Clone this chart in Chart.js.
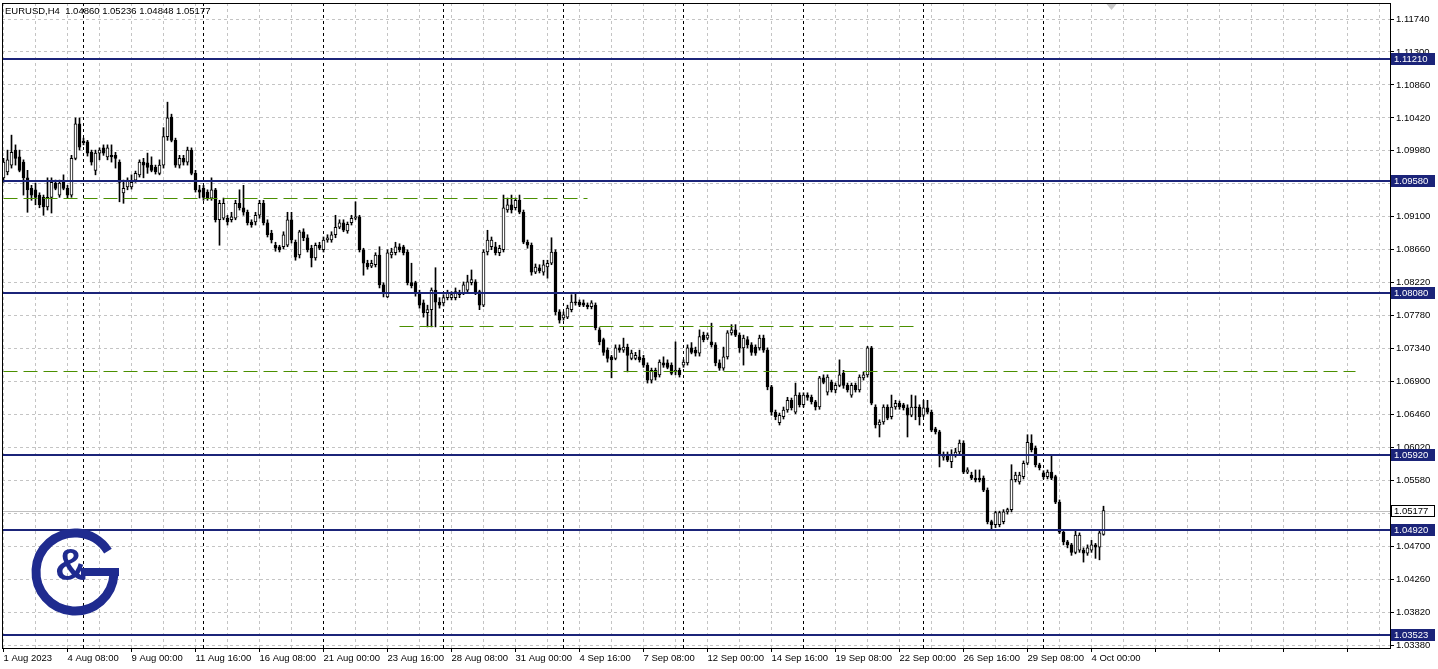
<!DOCTYPE html>
<html>
<head>
<meta charset="utf-8">
<script src="https://cdn.jsdelivr.net/npm/chart.js@4.4.1/dist/chart.umd.min.js"></script>
<style>
html,body{margin:0;padding:0;background:#fff;}
#wrap{width:1438px;height:669px;}
</style>
</head>
<body>
<div id="wrap"><canvas id="chart" width="1438" height="669"></canvas></div>
<script>
const symbolTitle = 'EURUSD,H4  1.04860 1.05236 1.04848 1.05177';

// H4 candles, one per bar, starting 1 Aug 2023 16:00
const opens = [
1.0962,1.0970,1.0979,1.0999,1.0990,1.0983,1.0962,1.0948,1.0946,1.0939,
1.0936,1.0923,1.0936,1.0955,1.0939,1.0956,1.0948,1.0939,1.0988,1.1034,
1.1011,1.1010,1.0996,1.0972,1.0995,1.1002,1.0990,1.0992,1.0992,1.0983,
1.0942,1.0950,1.0950,1.0959,1.0966,1.0983,1.0982,1.0979,1.0976,1.0968,
1.0979,1.1017,1.1043,1.1012,1.0979,1.0988,1.0983,1.0999,1.0968,1.0946,
1.0948,1.0943,1.0935,1.0946,1.0906,1.0908,1.0908,1.0906,1.0908,1.0928,
1.0922,1.0916,1.0903,1.0903,1.0912,1.0928,1.0902,1.0888,1.0872,1.0870,
1.0870,1.0872,1.0906,1.0876,1.0859,1.0890,1.0882,1.0868,1.0855,1.0872,
1.0866,1.0879,1.0879,1.0886,1.0896,1.0902,1.0891,1.0902,1.0908,1.0910,
1.0866,1.0848,1.0844,1.0846,1.0859,1.0819,1.0803,1.0859,1.0862,1.0870,
1.0870,1.0863,1.0822,1.0822,1.0808,1.0795,1.0782,1.0786,1.0812,1.0796,
1.0795,1.0802,1.0802,1.0802,1.0808,1.0808,1.0812,1.0822,1.0823,1.0810,
1.0792,1.0863,1.0870,1.0870,1.0862,1.0866,1.0919,1.0926,1.0922,1.0932,
1.0916,1.0876,1.0872,1.0836,1.0842,1.0836,1.0843,1.0848,1.0863,1.0783,
1.0775,1.0776,1.0786,1.0796,1.0796,1.0795,1.0792,1.0790,1.0792,1.0759,
1.0746,1.0732,1.0723,1.0721,1.0735,1.0732,1.0736,1.0721,1.0721,1.0723,
1.0721,1.0712,1.0692,1.0705,1.0699,1.0715,1.0715,1.0712,1.0703,1.0705,
1.0712,1.0715,1.0735,1.0732,1.0728,1.0752,1.0748,1.0743,1.0739,1.0715,
1.0708,1.0723,1.0755,1.0759,1.0752,1.0735,1.0746,1.0739,1.0736,1.0735,
1.0748,1.0732,1.0683,1.0649,1.0635,1.0643,1.0652,1.0665,1.0649,1.0672,
1.0659,1.0672,1.0669,1.0663,1.0656,1.0695,1.0676,1.0689,1.0679,1.0685,
1.0701,1.0685,1.0672,1.0685,1.0679,1.0695,1.0699,1.0735,1.0656,1.0632,
1.0636,1.0656,1.0643,1.0656,1.0661,1.0659,1.0655,1.0645,1.0656,1.0656,
1.0645,1.0655,1.0649,1.0627,1.0623,1.0589,1.0592,1.0583,1.0592,1.0596,
1.0608,1.0569,1.0565,1.0561,1.0561,1.0561,1.0545,1.0503,1.0499,1.0499,
1.0503,1.0516,1.0519,1.0559,1.0556,1.0563,1.0581,1.0608,1.0601,1.0579,
1.0568,1.0563,1.0569,1.0563,1.0529,1.0489,1.0476,1.0472,1.0462,1.0465,
1.0465,1.0461,1.0465,1.0472,1.0469,1.04860
];
const highs = [
1.0988,1.0999,1.1019,1.1006,1.0999,1.0986,1.0972,1.0952,1.0955,1.0942,
1.0939,1.0962,1.0962,1.0959,1.0959,1.0966,1.0952,1.0992,1.1042,1.1042,
1.1015,1.1012,1.0999,1.0999,1.1002,1.1006,1.1006,1.1006,1.0996,1.0986,
1.0959,1.0962,1.0966,1.0971,1.0986,1.0988,1.0995,1.0990,1.0979,1.0986,
1.1029,1.1063,1.1047,1.1015,1.0992,1.0992,1.1003,1.1002,1.0972,1.0952,
1.0952,1.0946,1.0962,1.0948,1.0932,1.0935,1.0912,1.0916,1.0932,1.0946,
1.0952,1.0919,1.0906,1.0916,1.0932,1.0932,1.0906,1.0892,1.0876,1.0872,
1.0890,1.0916,1.0916,1.0879,1.0892,1.0894,1.0886,1.0872,1.0875,1.0876,
1.0883,1.0886,1.0890,1.0912,1.0906,1.0906,1.0903,1.0912,1.0930,1.0912,
1.0868,1.0852,1.0852,1.0862,1.0870,1.0822,1.0866,1.0868,1.0876,1.0874,
1.0872,1.0866,1.0848,1.0824,1.0812,1.0799,1.0792,1.0815,1.0842,1.0802,
1.0806,1.0812,1.0810,1.0815,1.0812,1.0823,1.0832,1.0839,1.0826,1.0812,
1.0866,1.0892,1.0883,1.0876,1.0872,1.0939,1.0935,1.0939,1.0935,1.0939,
1.0919,1.0879,1.0875,1.0847,1.0846,1.0852,1.0852,1.0882,1.0866,1.0786,
1.0783,1.0792,1.0806,1.0808,1.0799,1.0799,1.0795,1.0798,1.0795,1.0762,
1.0748,1.0735,1.0725,1.0739,1.0739,1.0748,1.0740,1.0732,1.0729,1.0732,
1.0725,1.0715,1.0708,1.0708,1.0719,1.0723,1.0719,1.0715,1.0743,1.0708,
1.0719,1.0739,1.0742,1.0736,1.0759,1.0756,1.0755,1.0768,1.0742,1.0719,
1.0736,1.0758,1.0766,1.0766,1.0755,1.0752,1.0750,1.0742,1.0739,1.0752,
1.0752,1.0735,1.0685,1.0652,1.0648,1.0656,1.0669,1.0668,1.0688,1.0675,
1.0675,1.0675,1.0672,1.0665,1.0697,1.0699,1.0699,1.0692,1.0688,1.0719,
1.0705,1.0688,1.0688,1.0688,1.0699,1.0703,1.0737,1.0737,1.0659,1.0639,
1.0659,1.0659,1.0672,1.0665,1.0664,1.0661,1.0659,1.0672,1.0671,1.0659,
1.0665,1.0665,1.0652,1.0629,1.0625,1.0596,1.0596,1.0599,1.0601,1.0612,
1.0611,1.0575,1.0569,1.0572,1.0572,1.0564,1.0548,1.0505,1.0517,1.0517,
1.0519,1.0521,1.0579,1.0569,1.0569,1.0584,1.0619,1.0619,1.0604,1.0581,
1.0571,1.0572,1.0592,1.0565,1.0532,1.0492,1.0478,1.0474,1.0492,1.0488,
1.0468,1.0472,1.0478,1.0474,1.0492,1.05236
];
const lows = [
1.0956,1.0966,1.0975,1.0979,1.0970,1.0939,1.0916,1.0932,1.0926,1.0922,
1.0912,1.0919,1.0915,1.0946,1.0936,1.0946,1.0935,1.0936,1.0986,1.0999,
1.1006,1.0991,1.0979,1.0966,1.0986,1.0992,1.0986,1.0983,1.0975,1.0930,
1.0928,1.0946,1.0947,1.0956,1.0963,1.0962,1.0968,1.0970,1.0967,1.0966,
1.0975,1.1012,1.1010,1.0976,1.0975,1.0979,1.0979,1.0966,1.0943,1.0935,
1.0932,1.0932,1.0932,1.0903,1.0872,1.0906,1.0899,1.0903,1.0906,1.0919,
1.0912,1.0899,1.0896,1.0899,1.0908,1.0899,1.0883,1.0875,1.0864,1.0863,
1.0867,1.0870,1.0875,1.0852,1.0855,1.0878,1.0863,1.0843,1.0852,1.0866,
1.0863,1.0876,1.0876,1.0882,1.0894,1.0890,1.0888,1.0899,1.0906,1.0863,
1.0832,1.0840,1.0842,1.0843,1.0815,1.0803,1.0802,1.0855,1.0859,1.0863,
1.0859,1.0819,1.0815,1.0804,1.0788,1.0776,1.0763,1.0763,1.0763,1.0788,
1.0791,1.0799,1.0799,1.0799,1.0802,1.0806,1.0810,1.0819,1.0806,1.0786,
1.0790,1.0859,1.0866,1.0859,1.0858,1.0863,1.0916,1.0915,1.0919,1.0914,
1.0874,1.0868,1.0832,1.0834,1.0835,1.0832,1.0828,1.0846,1.0779,1.0768,
1.0772,1.0774,1.0783,1.0792,1.0790,1.0790,1.0787,1.0787,1.0759,1.0739,
1.0725,1.0716,1.0695,1.0719,1.0729,1.0729,1.0703,1.0719,1.0719,1.0716,
1.0709,1.0688,1.0688,1.0692,1.0696,1.0709,1.0707,1.0699,1.0699,1.0696,
1.0709,1.0712,1.0727,1.0724,1.0724,1.0743,1.0746,1.0736,1.0711,1.0705,
1.0705,1.0720,1.0752,1.0750,1.0729,1.0712,1.0735,1.0725,1.0725,1.0732,
1.0729,1.0679,1.0645,1.0639,1.0632,1.0640,1.0649,1.0652,1.0647,1.0656,
1.0656,1.0665,1.0660,1.0652,1.0653,1.0687,1.0672,1.0676,1.0675,1.0683,
1.0681,1.0676,1.0669,1.0676,1.0676,1.0692,1.0696,1.0659,1.0628,1.0616,
1.0633,1.0639,1.0640,1.0653,1.0653,1.0652,1.0616,1.0643,1.0639,1.0632,
1.0643,1.0647,1.0623,1.0620,1.0576,1.0585,1.0583,1.0575,1.0589,1.0593,
1.0567,1.0567,1.0559,1.0556,1.0556,1.0543,1.0500,1.0492,1.0495,1.0496,
1.0500,1.0513,1.0516,1.0556,1.0553,1.0560,1.0579,1.0596,1.0576,1.0572,
1.0560,1.0560,1.0559,1.0527,1.0487,1.0472,1.0468,1.0458,1.0460,1.0462,
1.0449,1.0458,1.0462,1.0454,1.0452,1.04848
];
const closes = [
1.0983,1.0986,1.0996,1.0988,1.0972,1.0962,1.0946,1.0939,1.0936,1.0926,
1.0923,1.0936,1.0956,1.0948,1.0955,1.0948,1.0939,1.0988,1.1034,1.1003,
1.1009,1.0995,1.0983,1.0995,1.0999,1.0995,1.1002,1.0990,1.0988,1.0956,
1.0948,1.0959,1.0956,1.0968,1.0983,1.0979,1.0976,1.0972,1.0970,1.0979,
1.1017,1.1042,1.1012,1.0979,1.0988,1.0983,1.0999,1.0968,1.0946,1.0943,
1.0936,1.0935,1.0946,1.0906,1.0928,1.0928,1.0903,1.0910,1.0928,1.0922,
1.0916,1.0902,1.0899,1.0912,1.0928,1.0902,1.0886,1.0879,1.0868,1.0866,
1.0886,1.0906,1.0879,1.0856,1.0890,1.0882,1.0866,1.0855,1.0872,1.0868,
1.0879,1.0882,1.0886,1.0896,1.0902,1.0892,1.0900,1.0908,1.0910,1.0866,
1.0848,1.0843,1.0848,1.0859,1.0819,1.0808,1.0862,1.0863,1.0870,1.0866,
1.0862,1.0822,1.0818,1.0808,1.0792,1.0782,1.0786,1.0812,1.0796,1.0792,
1.0802,1.0808,1.0806,1.0810,1.0806,1.0819,1.0823,1.0826,1.0810,1.0792,
1.0863,1.0879,1.0879,1.0862,1.0868,1.0922,1.0926,1.0919,1.0932,1.0916,
1.0876,1.0872,1.0836,1.0843,1.0838,1.0846,1.0848,1.0863,1.0783,1.0772,
1.0779,1.0788,1.0796,1.0795,1.0792,1.0792,1.0790,1.0795,1.0762,1.0743,
1.0729,1.0721,1.0719,1.0735,1.0732,1.0736,1.0725,1.0728,1.0725,1.0719,
1.0712,1.0692,1.0705,1.0696,1.0716,1.0712,1.0709,1.0701,1.0705,1.0699,
1.0716,1.0735,1.0729,1.0728,1.0750,1.0746,1.0752,1.0739,1.0715,1.0708,
1.0723,1.0755,1.0759,1.0752,1.0735,1.0748,1.0739,1.0729,1.0728,1.0748,
1.0732,1.0683,1.0649,1.0643,1.0645,1.0652,1.0665,1.0655,1.0672,1.0659,
1.0672,1.0669,1.0663,1.0656,1.0695,1.0689,1.0696,1.0679,1.0685,1.0699,
1.0685,1.0679,1.0685,1.0679,1.0696,1.0699,1.0735,1.0661,1.0632,1.0636,
1.0656,1.0641,1.0656,1.0661,1.0656,1.0655,1.0645,1.0656,1.0655,1.0643,
1.0655,1.0649,1.0625,1.0623,1.0592,1.0592,1.0585,1.0592,1.0596,1.0608,
1.0569,1.0572,1.0561,1.0559,1.0559,1.0545,1.0503,1.0499,1.0515,1.0515,
1.0516,1.0519,1.0559,1.0565,1.0565,1.0581,1.0609,1.0599,1.0579,1.0575,
1.0563,1.0569,1.0561,1.0529,1.0489,1.0476,1.0472,1.0462,1.0485,1.0485,
1.0461,1.0468,1.0472,1.0469,1.0488,1.05177
];

// axis labels
const dateLabels = ['1 Aug 2023','4 Aug 08:00','9 Aug 00:00','11 Aug 16:00','16 Aug 08:00','21 Aug 00:00',
  '23 Aug 16:00','28 Aug 08:00','31 Aug 00:00','4 Sep 16:00','7 Sep 08:00','12 Sep 00:00',
  '14 Sep 16:00','19 Sep 08:00','22 Sep 00:00','26 Sep 16:00','29 Sep 08:00','4 Oct 00:00'];
const priceTicks = [1.03380,1.03820,1.04260,1.04700,1.05140,1.05580,1.06020,1.06460,1.06900,1.07340,
  1.07780,1.08220,1.08660,1.09100,1.09540,1.09980,1.10420,1.10860,1.11300,1.11740];

// drawn objects
const levelPrices = [1.11210, 1.09580, 1.08080, 1.05920, 1.04920, 1.03523];
const trendStart = [0, 99, 0];
const trendEnd = [146, 229, 338];
const trendPrice = [1.0935, 1.0764, 1.0704];
const weekStarts = [20, 50, 80, 110, 140, 170, 200, 230, 260];
const lastPrice = 1.05177;

const N = closes.length;
const idx = closes.map((c, i) => i);
const wicks = idx.map(i => ({x: i, y: [lows[i], highs[i]]}));
const bodies = idx.map(i => ({x: i, y: [opens[i], closes[i]]}));
const bodyFill = idx.map(i => closes[i] >= opens[i] ? '#ffffff' : '#000000');

const FONT = "'Liberation Sans', Arial, sans-serif";
const FSIZE = 9.5;
const NAVY = '#1b2479';
const GREEN = '#4b8f00';

const overlay = {
  id: 'overlay',
  beforeDatasetsDraw(chart) {
    const {ctx, chartArea: a, scales: {x, y}} = chart;
    ctx.save();
    // week separators
    ctx.strokeStyle = '#000';
    ctx.lineWidth = 1;
    ctx.setLineDash([3, 3]);
    weekStarts.forEach(w => {
      const px = Math.floor(x.getPixelForValue(w)) + 0.5;
      ctx.beginPath(); ctx.moveTo(px, a.top); ctx.lineTo(px, a.bottom); ctx.stroke();
    });
    // last price line
    ctx.setLineDash([]);
    ctx.strokeStyle = '#c0c0c0';
    const py = Math.round(y.getPixelForValue(lastPrice)) + 0.5;
    ctx.beginPath(); ctx.moveTo(a.left, py); ctx.lineTo(a.right, py); ctx.stroke();
    ctx.restore();
  },
  afterDatasetsDraw(chart) {
    const {ctx, chartArea: a, scales: {x, y}} = chart;
    ctx.save();
    // green dashed lines
    ctx.strokeStyle = GREEN;
    ctx.lineWidth = 1;
    ctx.setLineDash([14, 6]);
    trendPrice.forEach((p, k) => {
      const py = Math.floor(y.getPixelForValue(p)) + 0.5;
      ctx.beginPath();
      ctx.moveTo(x.getPixelForValue(trendStart[k]), py);
      ctx.lineTo(x.getPixelForValue(trendEnd[k]), py);
      ctx.stroke();
    });
    // levels
    ctx.setLineDash([]);
    ctx.strokeStyle = NAVY;
    ctx.lineWidth = 2;
    levelPrices.forEach(p => {
      const py = Math.round(y.getPixelForValue(p));
      ctx.beginPath(); ctx.moveTo(a.left, py); ctx.lineTo(a.right, py); ctx.stroke();
    });
    ctx.restore();
  },
  afterDraw(chart) {
    const {ctx, chartArea: a, scales: {x, y}} = chart;
    ctx.save();
    // frame
    ctx.strokeStyle = '#000';
    ctx.lineWidth = 1;
    ctx.strokeRect(a.left + 0.5, a.top + 0.5, a.right - a.left, a.bottom - a.top);
    // title
    ctx.fillStyle = '#000';
    ctx.font = FSIZE + 'px ' + FONT;
    ctx.textBaseline = 'middle';
    ctx.textAlign = 'left';
    ctx.fillText(symbolTitle, a.left + 3, a.top + 8);
    // level tags
    levelPrices.forEach(p => {
      const py = Math.round(y.getPixelForValue(p));
      ctx.fillStyle = NAVY;
      ctx.fillRect(a.right + 1, py - 6, 44, 12);
      ctx.fillStyle = '#fff';
      ctx.fillText(p.toFixed(5), a.right + 4, py);
    });
    // last price tag
    const ly = Math.round(y.getPixelForValue(lastPrice));
    ctx.fillStyle = '#fff';
    ctx.fillRect(a.right + 1, ly - 6, 44, 12);
    ctx.strokeStyle = '#000';
    ctx.strokeRect(a.right + 1.5, ly - 5.5, 43, 11);
    ctx.fillStyle = '#000';
    ctx.fillText(lastPrice.toFixed(5), a.right + 4, ly);
    // shift marker
    const sx = x.getPixelForValue(N + 1);
    ctx.fillStyle = '#c8c8c8';
    ctx.beginPath();
    ctx.moveTo(sx - 5, a.top + 1); ctx.lineTo(sx + 5, a.top + 1); ctx.lineTo(sx, a.top + 7);
    ctx.closePath(); ctx.fill();
    // logo
    const cx = 75, cy = 572;
    ctx.strokeStyle = '#1f2b8f';
    ctx.fillStyle = '#1f2b8f';
    ctx.lineWidth = 9;
    ctx.beginPath();
    ctx.arc(cx, cy, 39, 0.02 * Math.PI, 1.82 * Math.PI);
    ctx.stroke();
    ctx.fillRect(cx + 6, cy - 4, 38, 8);
    ctx.font = 'bold 44px ' + FONT;
    ctx.textAlign = 'center';
    ctx.fillText('&', cx - 4, cy - 4);
    ctx.restore();
  }
};

const ctx = document.getElementById('chart').getContext('2d');
new Chart(ctx, {
  type: 'bar',
  data: {
    datasets: [
      {
        data: bodies,
        backgroundColor: bodyFill,
        borderColor: '#000',
        borderWidth: 1,
        borderSkipped: false,
        barThickness: 3,
        minBarLength: 1,
        grouped: false,
        order: 0
      },
      {
        data: wicks,
        backgroundColor: '#000',
        borderWidth: 0,
        barThickness: 1,
        grouped: false,
        order: 1
      }
    ]
  },
  options: {
    responsive: false,
    animation: false,
    devicePixelRatio: 1,
    layout: {padding: {left: 2, top: 3, right: 0, bottom: 0}},
    plugins: {legend: {display: false}, tooltip: {enabled: false}},
    scales: {
      x: {
        type: 'linear',
        position: 'bottom',
        offset: false,
        min: -0.375,
        max: 346.625,
        afterBuildTicks: s => { const t = []; for (let v = 0; v <= 344; v += 8) t.push({value: v}); s.ticks = t; },
        afterFit: s => { s.height = 21; s.paddingLeft = 0; s.paddingRight = 0; },
        ticks: {
          autoSkip: false,
          maxRotation: 0,
          align: 'start',
          padding: 1,
          color: '#000',
          font: {family: FONT, size: FSIZE},
          callback: v => (v % 16 === 0 && dateLabels[v / 16]) ? dateLabels[v / 16] : ''
        },
        grid: {
          color: '#c4c4c4',
          offset: false,
          tickLength: 4,
          tickColor: c => (c.tick && c.tick.value % 16 === 0) ? '#000' : 'rgba(0,0,0,0)'
        },
        border: {color: '#000', dash: [3, 3]}
      },
      y: {
        type: 'linear',
        position: 'right',
        min: 1.03343,
        max: 1.11954,
        afterBuildTicks: s => { s.ticks = priceTicks.map(v => ({value: v})); },
        afterFit: s => { s.width = 48; s.paddingTop = 0; s.paddingBottom = 0; },
        ticks: {
          padding: 2,
          color: '#000',
          font: {family: FONT, size: FSIZE},
          callback: v => Number(v).toFixed(5)
        },
        grid: {color: '#c4c4c4', tickLength: 4, tickColor: '#000'},
        border: {color: '#000', dash: [3, 3]}
      }
    }
  },
  plugins: [overlay]
});
</script>
</body>
</html>
